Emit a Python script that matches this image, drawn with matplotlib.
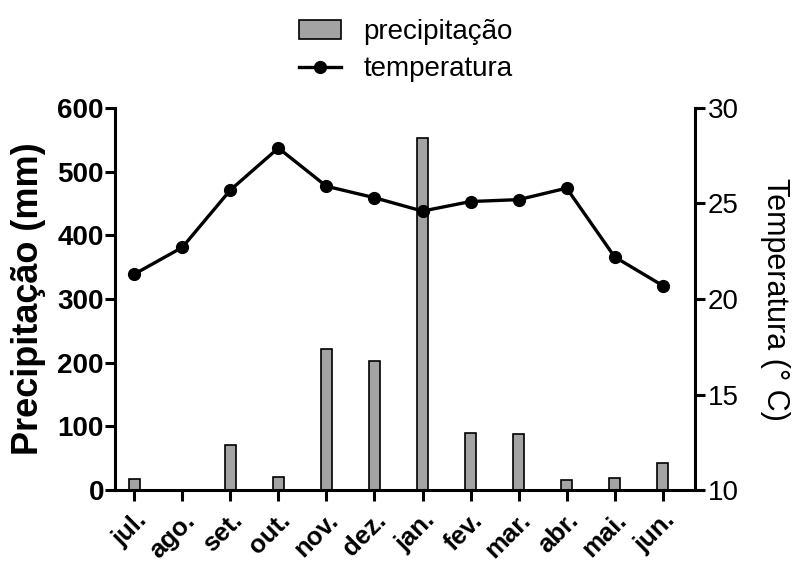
import matplotlib
matplotlib.use("Agg")
import matplotlib.pyplot as plt
from matplotlib.patches import Patch
from matplotlib.lines import Line2D

plt.rcParams['font.family'] = ['Liberation Sans', 'DejaVu Sans']

# monthly data, jul -> jun
months = ['jul.', 'ago.', 'set.', 'out.', 'nov.', 'dez.', 'jan.', 'fev.', 'mar.', 'abr.', 'mai.', 'jun.']
precip = [17, 0, 71, 21, 222, 202, 552, 90, 88, 16, 19, 42]
temp = [21.3, 22.7, 25.7, 27.9, 25.9, 25.3, 24.6, 25.1, 25.2, 25.8, 22.2, 20.7]

fig = plt.figure(figsize=(7.96, 5.62), dpi=100)
ax = fig.add_axes([0.1445, 0.128, 0.7285, 0.68])
ax2 = ax.twinx()

x = list(range(len(months)))
ax.bar(x, precip, width=0.23, color='#a3a3a3', edgecolor='black', linewidth=1.2, zorder=2)
ax2.plot(x, temp, color='black', linewidth=2.4, marker='o', markersize=8.5, zorder=3)

ax.set_xlim(-0.4, 11.67)
ax.set_ylim(0, 600)
ax2.set_ylim(10, 30)
ax.set_yticks([0, 100, 200, 300, 400, 500, 600])
ax2.set_yticks([10, 15, 20, 25, 30])
ax.set_xticks(x)
ax.set_xticklabels(months, rotation=45, ha='right', rotation_mode='anchor',
                   fontsize=18.5, fontweight='bold')

for a in (ax, ax2):
    a.spines['top'].set_visible(False)
    for s in a.spines.values():
        s.set_linewidth(2.2)
ax.spines['right'].set_visible(False)
ax2.spines['left'].set_visible(False)
ax2.spines['bottom'].set_visible(False)

ax.tick_params(axis='y', labelsize=20, width=2.2, length=7, pad=1)
ax.tick_params(axis='x', width=2.2, length=8, pad=5)
ax2.tick_params(axis='y', labelsize=20, width=2.2, length=7, pad=2)
for lbl in ax.get_yticklabels():
    lbl.set_fontweight('bold')

ax.set_ylabel('Precipitação (mm)', fontsize=26, fontweight='bold', labelpad=8)
ax2.set_ylabel('Temperatura (° C)', fontsize=22, rotation=270, labelpad=37)

handles = [Patch(facecolor='#a3a3a3', edgecolor='black', linewidth=1.2),
           Line2D([], [], color='black', linewidth=2.4, marker='o', markersize=8.5)]
fig.legend(handles, ['precipitação', 'temperatura'], loc='upper center',
           bbox_to_anchor=(0.51, 1.01), frameon=False, fontsize=20,
           handlelength=1.5, handletextpad=0.8, labelspacing=0.4)

fig.savefig('out.png', dpi=100)
